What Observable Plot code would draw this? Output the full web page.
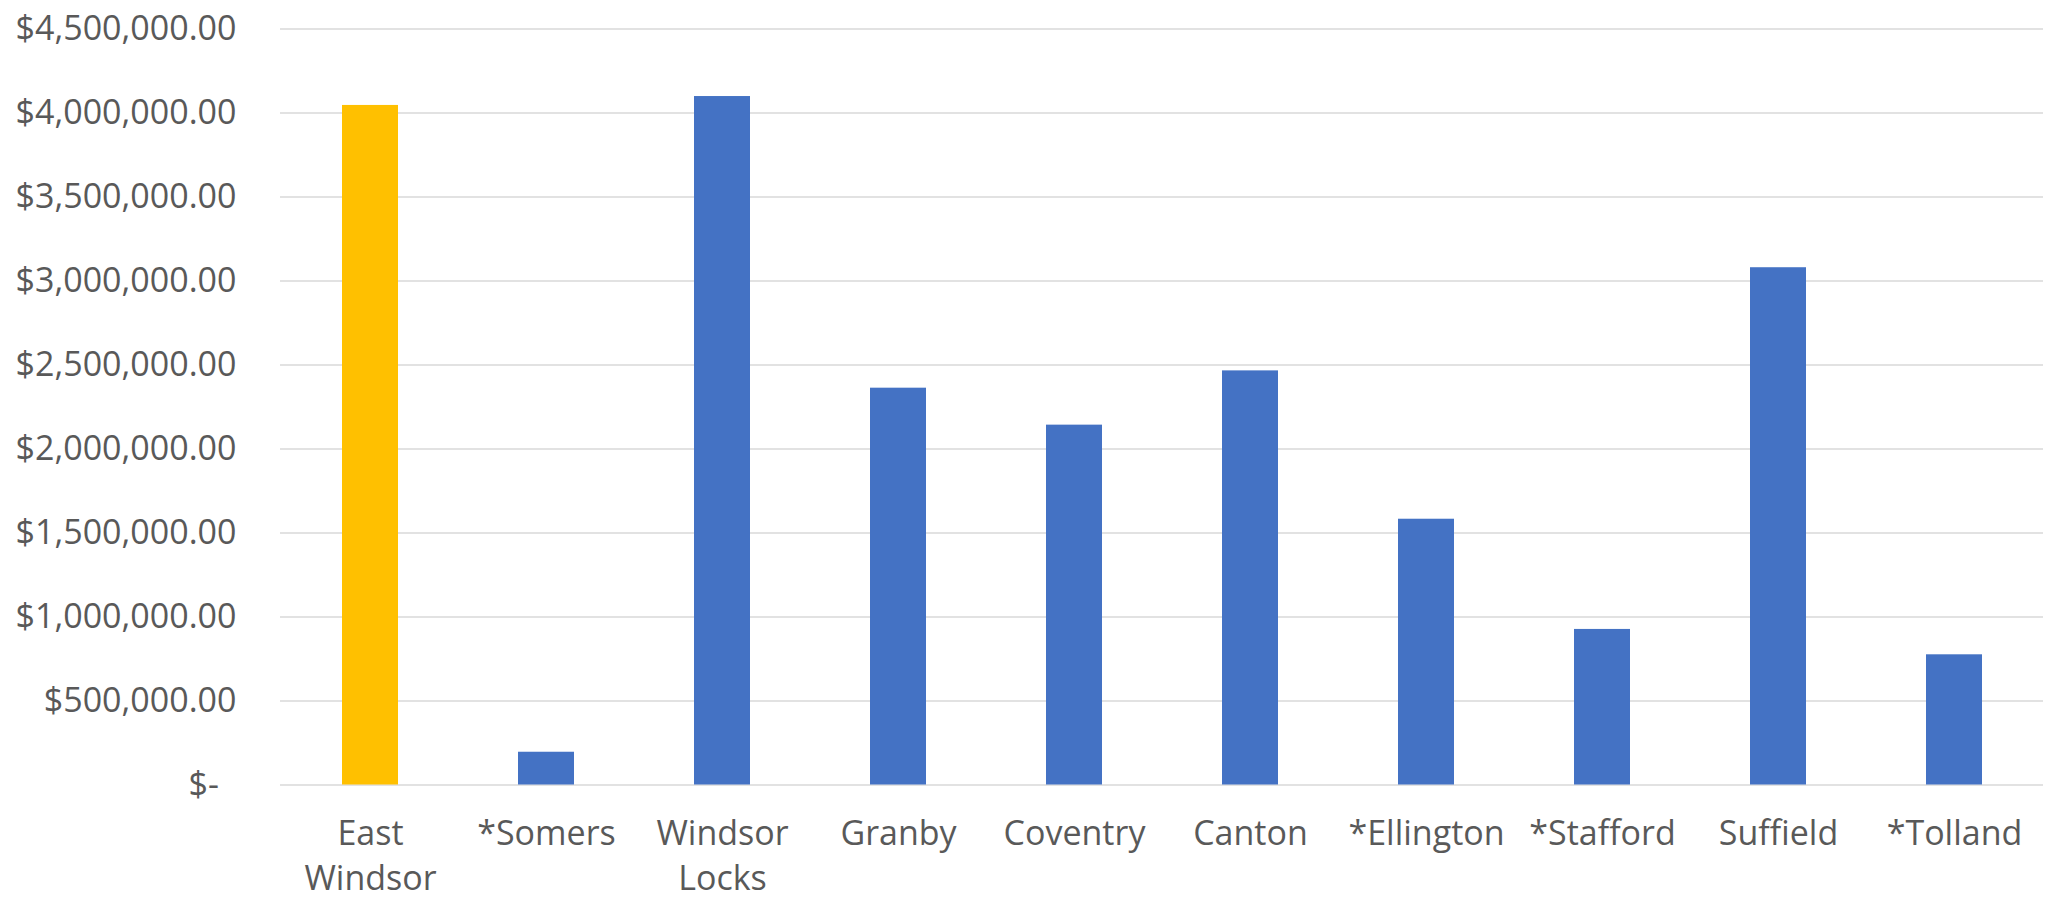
<!DOCTYPE html>
<html>
<head>
<meta charset="utf-8">
<script src="https://cdn.jsdelivr.net/npm/d3@7"></script>
<script src="https://cdn.jsdelivr.net/npm/@observablehq/plot@0.6"></script>
<style>
  html, body { margin: 0; padding: 0; background: #ffffff; }
  #chart svg { display: block; }
</style>
</head>
<body>
<div id="chart"></div>
<script>
const towns = ["East Windsor", "*Somers", "Windsor Locks", "Granby", "Coventry", "Canton", "*Ellington", "*Stafford", "Suffield", "*Tolland"];
const values = [4045000, 195000, 4098000, 2362000, 2142000, 2465000, 1582000, 926000, 3079000, 775000];
const townLabels = ["East\nWindsor", "*Somers", "Windsor\nLocks", "Granby", "Coventry", "Canton", "*Ellington", "*Stafford", "Suffield", "*Tolland"];
const highlighted = ["East Windsor"];
const yTicks = [0, 500000, 1000000, 1500000, 2000000, 2500000, 3000000, 3500000, 4000000, 4500000];

const data = towns.map((t, i) => ({town: t, value: values[i], hl: highlighted.includes(t)}));
const labelOf = new Map(towns.map((t, i) => [t, townLabels[i]]));
const fmt = d3.format(",.2f");

const chart = Plot.plot({
  width: 2048,
  height: 902,
  marginLeft: 280,
  marginRight: 5,
  marginTop: 28.5,
  marginBottom: 117.5,
  style: {fontFamily: "'Open Sans', 'Noto Sans', sans-serif", fontSize: "34px", color: "#595959", background: "#ffffff"},
  x: {domain: towns, paddingInner: 0.682, paddingOuter: 0.341, label: null},
  y: {domain: [0, 4500000], label: null},
  marks: [
    Plot.gridY(yTicks, {stroke: "#D9D9D9", strokeOpacity: 1, strokeWidth: 1.4}),
    Plot.barY(data, {x: "town", y: "value", fill: d => d.hl ? "#FFC000" : "#4472C4"}),
    Plot.axisY(yTicks, {
      tickSize: 0, tickPadding: 44,
      tickFormat: d => d === 0 ? "$-\u00a0\u00a0" : "$" + fmt(d),
      fill: "#595959", fontSize: 34, label: null
    }),
    Plot.axisX({
      tickSize: 0, tickPadding: 27,
      tickFormat: d => labelOf.get(d),
      lineHeight: 1.35,
      fill: "#595959", fontSize: 34, label: null
    })
  ]
});
document.getElementById("chart").appendChild(chart);
</script>
</body>
</html>
